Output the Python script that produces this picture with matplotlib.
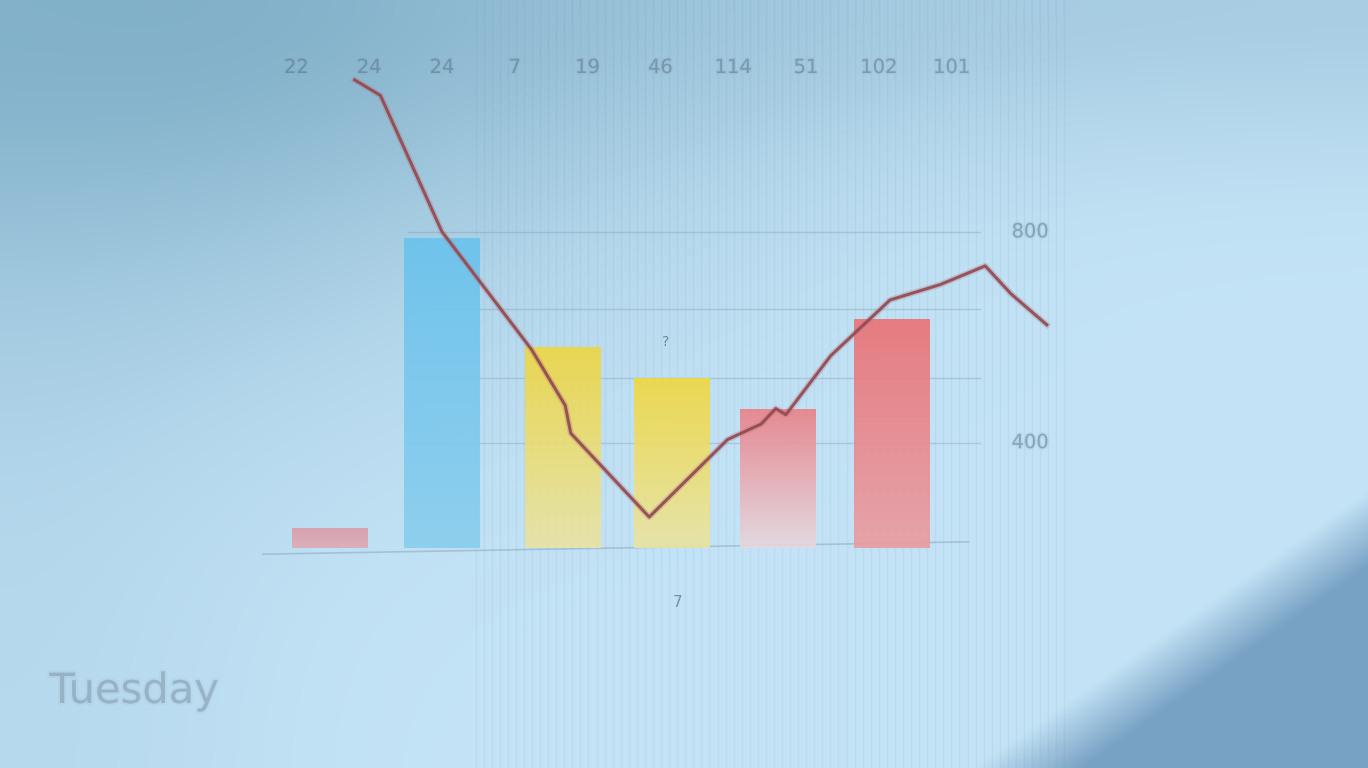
import numpy as np
import matplotlib.pyplot as plt
import matplotlib.patheffects as pe
from matplotlib.colors import to_rgb

# bar data (category index, value)
bar_x = [0, 1, 2.08, 3.05, 4.0, 5.01]
bar_values = [6.5, 100, 65, 55, 45, 74]
bar_colors = ['#dc98a4', '#68c2ec', '#f0d63c', '#f2d83a', '#ec7e84', '#ec6f72']
bar_fade = [0.2, 0.25, 0.55, 0.55, 0.8, 0.35]

# trend line
line_x = [0.22, 0.45, 1.0, 1.8, 2.1, 2.15, 2.85, 3.55, 3.85, 3.98, 4.07, 4.47, 5.0, 5.45, 5.85, 6.08, 6.4]
line_y = [151, 146, 102, 64, 46, 37, 10, 35, 40, 45, 43, 62, 80, 85, 91, 82, 72]

grid_y = [34, 55, 77, 102]
right_labels = ['800', '400']
right_label_y = [102, 34]
top_labels = ['22', '24', '24', '7', '19', '46', '114', '51', '102', '101']

fig = plt.figure(figsize=(13.68, 7.68), dpi=100)
ax = fig.add_axes([0, 0, 1, 1])
xlim = (-330 / 112, (1368 - 330) / 112)
ylim = ((548 - 768) / 3.1, 548 / 3.1)

# background: blurred screen photo look
px, py = np.meshgrid(np.linspace(0, 1368, 684), np.linspace(0, 768, 384))
bg = np.ones((384, 684, 3)) * np.array(to_rgb('#c4e3f6'))


def blend(img, amount, color):
    a = np.clip(amount, 0, 1)[..., None]
    return img * (1 - a) + np.array(to_rgb(color)) * a


band = np.exp(-(py / 150) ** 2) * 0.5
bg = blend(bg, band, '#8fbad2')
r2 = (px / 900) ** 2 + (py / 480) ** 2
bg = blend(bg, 0.85 * np.exp(-2.2 * r2), '#70a3bc')
bg = blend(bg, np.exp(-(px / 260) ** 2) * 0.3, '#98c3db')
corner = np.clip((px + 1.42 * py - 2120) / 110 + 0.5, 0, 1)
bg = blend(bg, corner, '#78a2c4')
ax.imshow(bg, extent=(*xlim, *ylim), aspect='auto', zorder=0, interpolation='bicubic')

# screen pixel texture
for xv in np.arange(1.3, 6.6, 0.072):
    ax.axvline(xv, color='#5a7f9a', lw=1.0, alpha=0.08, zorder=1)

for gy in grid_y:
    ax.plot([0.7, 5.8], [gy, gy], color='#6f8ea6', lw=1.0, alpha=0.3, zorder=1)
ax.plot([-0.6, 5.7], [-2, 2], color='#7f9db2', lw=1.2, alpha=0.45, zorder=2)

bars = ax.bar(bar_x, bar_values, width=0.67, color='none', zorder=3)
for rect, c, fade in zip(bars, bar_colors, bar_fade):
    rgb = np.array(to_rgb(c))
    t = np.linspace(0, 1, 100)[:, None]
    light = np.array(to_rgb('#e6eef4'))
    grad = rgb * (1 - fade * (1 - t)) + light * fade * (1 - t)
    img = np.concatenate([grad, np.full((100, 1), 0.88)], axis=1)[:, None, :]
    x0, w, h = rect.get_x(), rect.get_width(), rect.get_height()
    im = ax.imshow(img, extent=(x0, x0 + w, 0, h), origin='lower', aspect='auto', zorder=3)
    im.set_clip_path(rect)

ax.plot(line_x, line_y, color='#93474f', lw=2.2, alpha=0.9, zorder=4,
        path_effects=[pe.Stroke(linewidth=4.5, foreground='#b07a84', alpha=0.3), pe.Normal()])

soft = [pe.Stroke(linewidth=2, foreground='#7f9db2', alpha=0.15), pe.Normal()]
txt = dict(color='#4a667c', alpha=0.35, fontsize=14, ha='center', va='center', zorder=5,
           path_effects=soft)
for lab, yv in zip(right_labels, right_label_y):
    ax.text(6.25, yv, lab, **txt)
for i, lab in enumerate(top_labels):
    ax.text(-0.3 + i * 0.65, 155, lab, **txt)
ax.text(3.0, 65, '?', color='#3f4f5c', alpha=0.6, fontsize=10, ha='center', zorder=5)
ax.text(3.1, -19, '7', color='#3f4f5c', alpha=0.55, fontsize=11, ha='center', zorder=5)
ax.text(-1.75, -50, 'Tuesday', color='#7a90a2', alpha=0.4, fontsize=30, ha='center', zorder=5,
        path_effects=[pe.Stroke(linewidth=3, foreground='#9fb5c6', alpha=0.15), pe.Normal()])

ax.set_xlim(*xlim)
ax.set_ylim(*ylim)
ax.axis('off')
fig.savefig('out.png', dpi=100)
